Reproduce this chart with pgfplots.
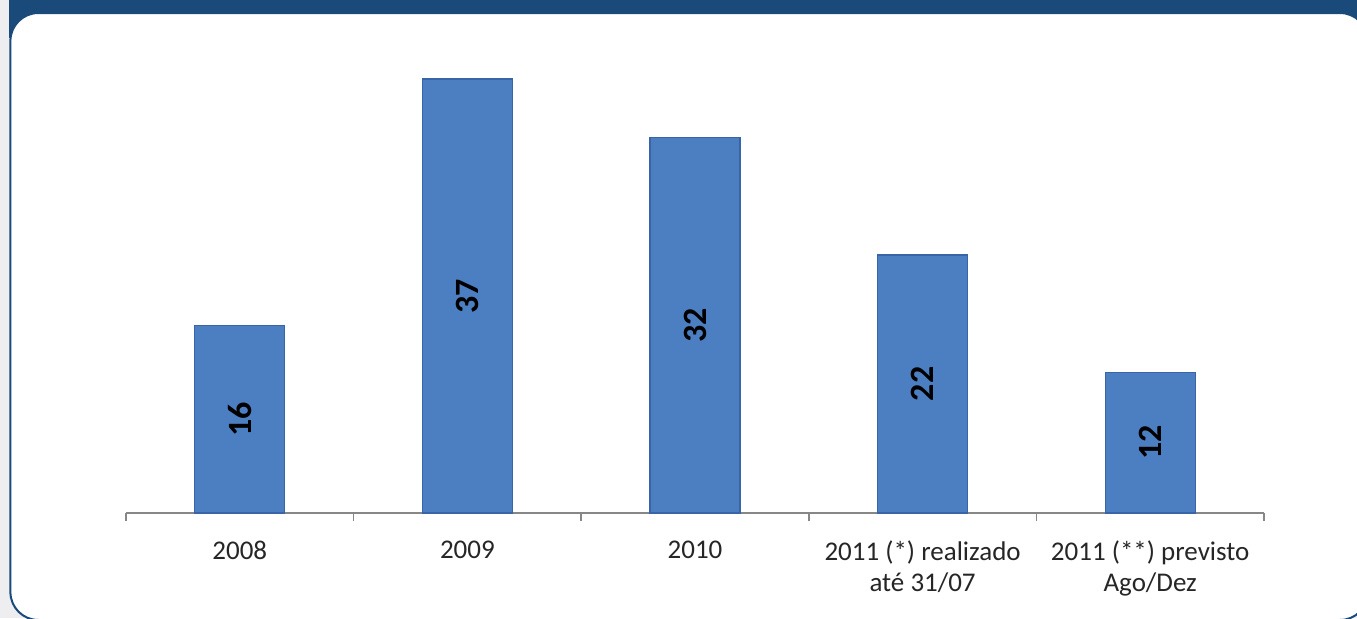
\documentclass[border=0pt]{standalone}
\usepackage{pgfplots}
\pgfplotsset{compat=1.18}
\usepackage{fontspec}
\setmainfont{Carlito}

\definecolor{frameblue}{RGB}{26,74,122}
\definecolor{bggray}{RGB}{238,238,240}
\definecolor{barblue}{RGB}{76,127,194}
\definecolor{baredge}{RGB}{58,100,168}
\definecolor{axisgray}{RGB}{135,135,135}
\definecolor{labelgray}{RGB}{38,38,38}

\begin{document}
\begin{tikzpicture}
\useasboundingbox (0,0) rectangle (678.5pt,309pt);
\clip (0,0) rectangle (678.5pt,309pt);
% background and frame
\fill[bggray] (0,0) rectangle (678.5pt,309pt);
\fill[frameblue] (4.5pt,290pt) rectangle (678.5pt,309pt);
\draw[frameblue, line width=1pt, fill=white, rounded corners=14pt]
  (5.2pt,-1pt) rectangle (684pt,302.5pt);

\begin{axis}[
    at={(63pt,52.5pt)}, anchor=south west,
    scale only axis,
    width=569pt, height=234.6pt,
    xmin=-0.5, xmax=4.5,
    ymin=0, ymax=40,
    axis x line*=bottom,
    axis y line=none,
    axis line style={axisgray, line width=0.8pt},
    ybar, bar width=45pt,
    xtick={0,1,2,3,4},
    xticklabels={2008, 2009, 2010,
      {2011 (*) realizado\\até 31/07},
      {2011 (**) previsto\\Ago/Dez}},
    major tick length=0pt,
    minor xtick={-0.5,0.5,1.5,2.5,3.5,4.5},
    minor tick length=4pt,
    tick align=outside,
    minor tick style={axisgray, line width=0.8pt},
    xticklabel style={align=center, text=labelgray,
      font=\fontsize{13.5}{15.5}\selectfont, yshift=-10.5pt},
    /pgf/number format/assume math mode=true,
    nodes near coords,
    visualization depends on=rawy \as \rawy,
    every node near coord/.style={yshift=-\rawy*2.9325pt, rotate=90,
      anchor=center, font=\fontsize{17}{20}\selectfont\bfseries,
      text=black},
    clip=false,
]
\addplot[fill=barblue, draw=baredge, line width=0.6pt]
  coordinates {(0,16) (1,37) (2,32) (3,22) (4,12)};
\end{axis}
\end{tikzpicture}
\end{document}
